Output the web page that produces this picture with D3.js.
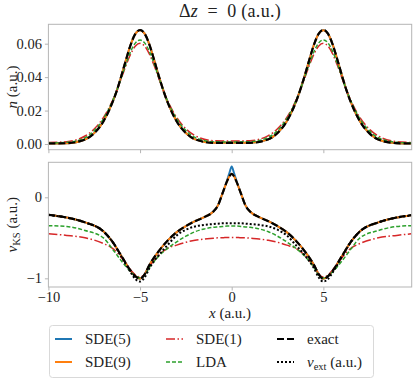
<!DOCTYPE html>
<html>
<head>
<meta charset="utf-8">
<script src="https://cdn.jsdelivr.net/npm/d3@7"></script>
<style>
  body { margin: 0; background: #fff; }
  text { font-family: "Liberation Serif", "DejaVu Serif", serif; fill: #222; }
</style>
</head>
<body>
<svg id="chart" width="415" height="381"></svg>
<script>
// density n(x), top panel
const densityX = [-10, -9, -8, -7.5, -7, -6.5, -6.25, -6, -5.75, -5.5, -5.25, -5, -4.75, -4.5, -4.25, -4, -3.5, -3, -2.5, -2, -1, 0,
  1, 2, 2.5, 3, 3.5, 4, 4.25, 4.5, 4.75, 5, 5.25, 5.5, 5.75, 6, 6.25, 6.5, 7, 7.5, 8, 9, 9.8];
const nExact = [0.0003, 0.0005, 0.0027, 0.0065, 0.0135, 0.0250, 0.0325, 0.0415, 0.0510, 0.0598, 0.0660, 0.0682, 0.0660, 0.0598, 0.0510, 0.0415, 0.0250, 0.0135, 0.0066, 0.0028, 0.0007, 0.0007,
  0.0007, 0.0028, 0.0066, 0.0135, 0.0250, 0.0415, 0.0510, 0.0598, 0.0660, 0.0682, 0.0660, 0.0598, 0.0510, 0.0415, 0.0325, 0.0250, 0.0135, 0.0065, 0.0027, 0.0005, 0.0003];
const nSDE5 = [0.0003, 0.0005, 0.0027, 0.0065, 0.0135, 0.0250, 0.0325, 0.0415, 0.0510, 0.0598, 0.0660, 0.0682, 0.0660, 0.0598, 0.0510, 0.0415, 0.0250, 0.0135, 0.0066, 0.0028, 0.0007, 0.0007,
  0.0007, 0.0028, 0.0066, 0.0135, 0.0250, 0.0415, 0.0510, 0.0598, 0.0660, 0.0682, 0.0660, 0.0598, 0.0510, 0.0415, 0.0325, 0.0250, 0.0135, 0.0065, 0.0027, 0.0005, 0.0003];
const nSDE9 = [0.0003, 0.0005, 0.0027, 0.0065, 0.0135, 0.0250, 0.0325, 0.0415, 0.0510, 0.0598, 0.0660, 0.0681, 0.0660, 0.0598, 0.0510, 0.0415, 0.0250, 0.0135, 0.0066, 0.0028, 0.0007, 0.0007,
  0.0007, 0.0028, 0.0066, 0.0135, 0.0250, 0.0415, 0.0510, 0.0598, 0.0660, 0.0681, 0.0660, 0.0598, 0.0510, 0.0415, 0.0325, 0.0250, 0.0135, 0.0065, 0.0027, 0.0005, 0.0003];
const nSDE1 = [0.0009, 0.0014, 0.0048, 0.0090, 0.0158, 0.0260, 0.0325, 0.0400, 0.0475, 0.0541, 0.0586, 0.0602, 0.0586, 0.0541, 0.0475, 0.0400, 0.0260, 0.0158, 0.0091, 0.0050, 0.0020, 0.0018,
  0.0020, 0.0050, 0.0091, 0.0158, 0.0260, 0.0400, 0.0475, 0.0541, 0.0586, 0.0602, 0.0586, 0.0541, 0.0475, 0.0400, 0.0325, 0.0260, 0.0158, 0.0090, 0.0048, 0.0014, 0.0009];
const nLDA = [0.0006, 0.0010, 0.0038, 0.0080, 0.0150, 0.0257, 0.0325, 0.0405, 0.0485, 0.0556, 0.0605, 0.0622, 0.0605, 0.0556, 0.0485, 0.0405, 0.0257, 0.0150, 0.0081, 0.0040, 0.0014, 0.0012,
  0.0014, 0.0040, 0.0081, 0.0150, 0.0257, 0.0405, 0.0485, 0.0556, 0.0605, 0.0622, 0.0605, 0.0556, 0.0485, 0.0405, 0.0325, 0.0257, 0.0150, 0.0080, 0.0038, 0.0010, 0.0006];

// Kohn-Sham potential v_KS(x), bottom panel
const potentialX = [-10, -9, -8, -7, -6.5, -6, -5.5, -5.25, -5, -4.75, -4.5, -4, -3.5, -3, -2.5, -2, -1.5, -1, -0.75, -0.5, -0.25, -0.125, 0,
  0.125, 0.25, 0.5, 0.75, 1, 1.5, 2, 2.5, 3, 3.5, 4, 4.5, 4.75, 5, 5.25, 5.5, 6, 6.5, 7, 8, 9, 9.8];
const vSDE5 = [-0.215, -0.25, -0.31, -0.42, -0.55, -0.73, -0.91, -0.975, -1.005, -0.95, -0.84, -0.67, -0.535, -0.43, -0.355, -0.295, -0.245, -0.175, -0.10, 0.05, 0.21, 0.30, 0.38,
  0.30, 0.21, 0.05, -0.10, -0.175, -0.245, -0.295, -0.355, -0.43, -0.535, -0.67, -0.84, -0.95, -1.005, -0.975, -0.91, -0.73, -0.55, -0.42, -0.31, -0.25, -0.22];
const vSDE9 = [-0.215, -0.25, -0.31, -0.42, -0.55, -0.73, -0.91, -0.975, -1.005, -0.95, -0.84, -0.67, -0.535, -0.43, -0.355, -0.295, -0.245, -0.175, -0.10, 0.05, 0.20, 0.26, 0.29,
  0.26, 0.20, 0.05, -0.10, -0.175, -0.245, -0.295, -0.355, -0.43, -0.535, -0.67, -0.84, -0.95, -1.005, -0.975, -0.91, -0.73, -0.55, -0.42, -0.31, -0.25, -0.22];
const vSDE1 = [-0.45, -0.47, -0.50, -0.57, -0.63, -0.75, -0.90, -0.96, -0.985, -0.95, -0.86, -0.72, -0.63, -0.59, -0.555, -0.53, -0.515, -0.505, -0.50, -0.50, -0.495, -0.495, -0.495,
  -0.495, -0.495, -0.50, -0.50, -0.505, -0.515, -0.53, -0.555, -0.59, -0.63, -0.72, -0.86, -0.95, -0.985, -0.96, -0.90, -0.75, -0.63, -0.57, -0.50, -0.47, -0.45];
const vLDA = [-0.35, -0.36, -0.41, -0.50, -0.64, -0.79, -0.92, -0.97, -0.995, -0.96, -0.87, -0.73, -0.63, -0.55, -0.48, -0.425, -0.39, -0.37, -0.365, -0.36, -0.355, -0.355, -0.355,
  -0.355, -0.355, -0.36, -0.365, -0.37, -0.39, -0.425, -0.48, -0.55, -0.63, -0.73, -0.87, -0.96, -0.995, -0.97, -0.92, -0.79, -0.64, -0.50, -0.41, -0.36, -0.35];
const vExact = [-0.215, -0.25, -0.31, -0.42, -0.55, -0.73, -0.91, -0.975, -1.005, -0.95, -0.84, -0.67, -0.535, -0.43, -0.355, -0.295, -0.245, -0.175, -0.10, 0.05, 0.20, 0.26, 0.29,
  0.26, 0.20, 0.05, -0.10, -0.175, -0.245, -0.295, -0.355, -0.43, -0.535, -0.67, -0.84, -0.95, -1.005, -0.975, -0.91, -0.73, -0.55, -0.42, -0.31, -0.25, -0.22];
const vExt = [-0.22, -0.25, -0.31, -0.42, -0.55, -0.74, -0.93, -1.01, -1.04, -0.99, -0.88, -0.72, -0.59, -0.47, -0.40, -0.36, -0.34, -0.33, -0.325, -0.32, -0.32, -0.32, -0.32,
  -0.32, -0.32, -0.32, -0.325, -0.33, -0.34, -0.36, -0.40, -0.47, -0.59, -0.72, -0.88, -0.99, -1.04, -1.01, -0.93, -0.74, -0.55, -0.42, -0.31, -0.25, -0.225];

const xTicks = [-10, -5, 0, 5];
const nTicks = [0, 0.02, 0.04, 0.06];
const vTicks = [-1, 0];

const COLORS = { sde5: '#1f77b4', sde9: '#ff7f0e', sde1: '#d62728', lda: '#2ca02c', exact: '#000', ext: '#000' };
const STYLES = {
  sde5: { w: 2, dash: null },
  sde9: { w: 2, dash: null },
  sde1: { w: 1.5, dash: '9,2.5,1.5,2.5' },
  lda: { w: 1.5, dash: '4,2' },
  exact: { w: 2.2, dash: '7,3' },
  ext: { w: 2, dash: '2,2' }
};
const FONT = '"Liberation Serif", "DejaVu Serif", serif';

const svg = d3.select('#chart');
const L = 48.4, R = 411.7;
const x = d3.scaleLinear().domain([-10, 9.82]).range([L, R]);
const yTop = d3.scaleLinear().domain([-0.0034, 0.0716]).range([149.7, 24.3]);
const yBot = d3.scaleLinear().domain([-1.107, 0.432]).range([287, 162.3]);

function fmtMinus(s) { return s.replace('-', '\u2212'); }

function panel(y, xs, series, clipId, yTickVals, yFmt, showXLabels) {
  const [y0, y1] = y.range();
  svg.append('clipPath').attr('id', clipId)
    .append('rect').attr('x', L).attr('y', y1).attr('width', R - L).attr('height', y0 - y1);

  const g = svg.append('g').attr('clip-path', `url(#${clipId})`);
  series.forEach(s => {
    const line = d3.line()
      .x((d, i) => x(xs[i]))
      .y(d => y(d))
      .curve(d3.curveMonotoneX);
    g.append('path')
      .attr('d', line(s.values))
      .attr('fill', 'none')
      .attr('stroke', COLORS[s.key])
      .attr('stroke-width', STYLES[s.key].w)
      .attr('stroke-dasharray', STYLES[s.key].dash);
  });

  // frame
  svg.append('rect')
    .attr('x', L).attr('y', y1).attr('width', R - L).attr('height', y0 - y1)
    .attr('fill', 'none').attr('stroke', '#b5b5b5').attr('stroke-width', 1);

  // ticks
  const xa = svg.append('g').attr('transform', `translate(0,${y0})`)
    .call(d3.axisBottom(x).tickValues(xTicks).tickSize(3.5).tickPadding(1.5)
      .tickFormat(d => showXLabels ? fmtMinus(String(d)) : ''));
  xa.select('.domain').remove();
  xa.selectAll('line').attr('stroke', '#b5b5b5');
  xa.selectAll('text').attr('font-size', 14.5).attr('font-family', FONT).attr('fill', '#222');

  const ya = svg.append('g').attr('transform', `translate(${L},0)`)
    .call(d3.axisLeft(y).tickValues(yTickVals).tickSize(3.5).tickPadding(3).tickFormat(yFmt));
  ya.select('.domain').remove();
  ya.selectAll('line').attr('stroke', '#b5b5b5');
  ya.selectAll('text').attr('font-size', 14.5).attr('font-family', FONT).attr('fill', '#222');
}

panel(yTop, densityX, [
  { key: 'sde5', values: nSDE5 },
  { key: 'sde9', values: nSDE9 },
  { key: 'sde1', values: nSDE1 },
  { key: 'lda', values: nLDA },
  { key: 'exact', values: nExact }
], 'clipTop', nTicks, d => d3.format('.2f')(d), false);

panel(yBot, potentialX, [
  { key: 'sde5', values: vSDE5 },
  { key: 'sde9', values: vSDE9 },
  { key: 'sde1', values: vSDE1 },
  { key: 'lda', values: vLDA },
  { key: 'exact', values: vExact },
  { key: 'ext', values: vExt }
], 'clipBot', vTicks, d => fmtMinus(String(d)), true);

// title
const title = svg.append('text').attr('x', 230).attr('y', 16.5).attr('text-anchor', 'middle')
  .attr('font-size', 18).attr('letter-spacing', 0.3);
title.append('tspan').text('\u0394');
title.append('tspan').attr('font-style', 'italic').text('z');
title.append('tspan').text('\u2002=\u20020 (a.u.)');

// y labels
const yl1 = svg.append('text').attr('transform', `translate(17,${(24.3 + 149.7) / 2}) rotate(-90)`)
  .attr('text-anchor', 'middle').attr('font-size', 15);
yl1.append('tspan').attr('font-style', 'italic').text('n');
yl1.append('tspan').text(' (a.u.)');

const yl2 = svg.append('text').attr('transform', `translate(17,${(162.3 + 287) / 2}) rotate(-90)`)
  .attr('text-anchor', 'middle').attr('font-size', 15);
yl2.append('tspan').attr('font-style', 'italic').text('v');
yl2.append('tspan').attr('font-size', 10.5).attr('dy', 3).text('KS');
yl2.append('tspan').attr('dy', -3).text(' (a.u.)');

// x label
const xl = svg.append('text').attr('x', (L + R) / 2).attr('y', 317.5).attr('text-anchor', 'middle').attr('font-size', 15);
xl.append('tspan').attr('font-style', 'italic').text('x');
xl.append('tspan').text(' (a.u.)');

// legend
const lg = svg.append('g');
lg.append('rect').attr('x', 49.5).attr('y', 325.5).attr('width', 324).attr('height', 52)
  .attr('rx', 3).attr('fill', '#fff').attr('stroke', '#d9d9d9');
const legendItems = [
  { key: 'sde5', label: 'SDE(5)', col: 0, row: 0 },
  { key: 'sde9', label: 'SDE(9)', col: 0, row: 1 },
  { key: 'sde1', label: 'SDE(1)', col: 1, row: 0 },
  { key: 'lda', label: 'LDA', col: 1, row: 1 },
  { key: 'exact', label: 'exact', col: 2, row: 0 },
  { key: 'ext', label: null, col: 2, row: 1 }
];
const colX = [55, 166, 277];
const rowY = [339, 362];
legendItems.forEach(it => {
  const lx = colX[it.col], ly = rowY[it.row];
  lg.append('line').attr('x1', lx).attr('x2', lx + 17).attr('y1', ly).attr('y2', ly)
    .attr('stroke', COLORS[it.key]).attr('stroke-width', STYLES[it.key].w)
    .attr('stroke-dasharray', STYLES[it.key].dash);
  const t = lg.append('text').attr('x', lx + 30).attr('y', ly + 5).attr('font-size', 15);
  if (it.label) {
    t.text(it.label);
  } else {
    t.append('tspan').attr('font-style', 'italic').text('v');
    t.append('tspan').attr('font-size', 10.5).attr('dy', 3).text('ext');
    t.append('tspan').attr('dy', -3).text(' (a.u.)');
  }
});
</script>
</body>
</html>
